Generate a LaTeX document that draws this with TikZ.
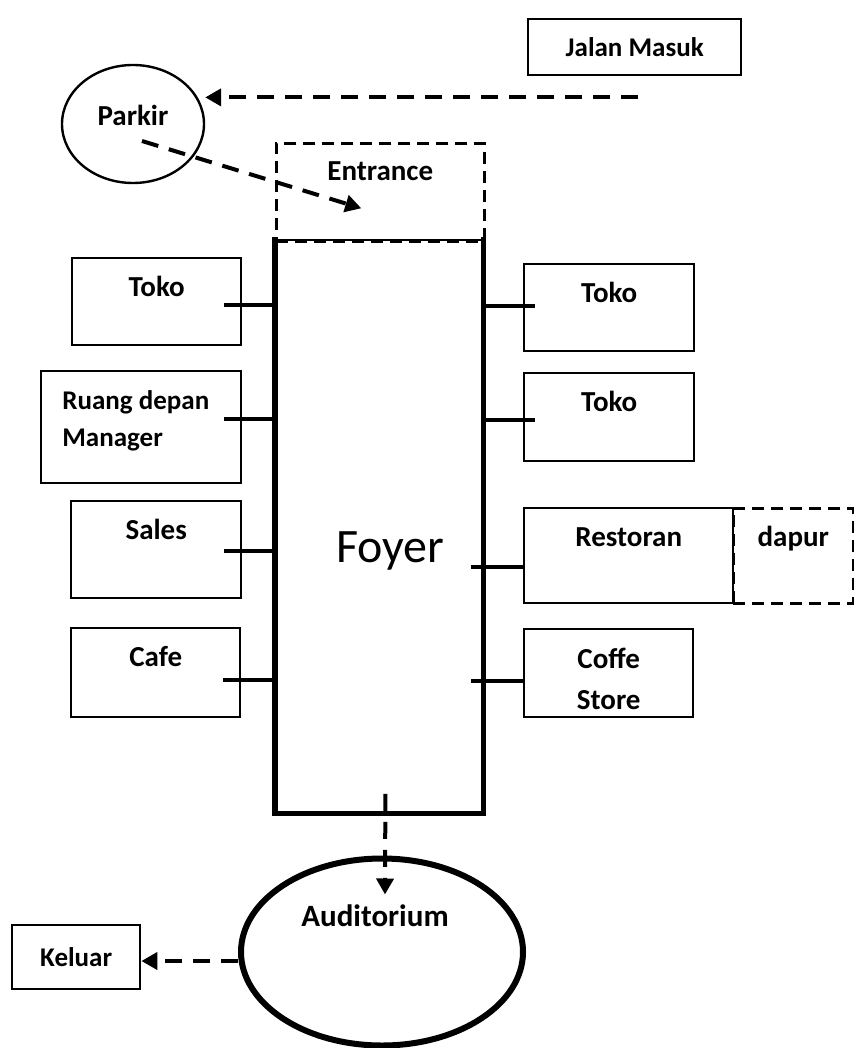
\documentclass[tikz,border=0pt]{standalone}
\usepackage{fontspec}
\setmainfont{Carlito}
\usetikzlibrary{arrows.meta,shapes.geometric,calc}
\tikzset{
  room/.style={draw,line width=1.2pt,anchor=north west,inner sep=0pt},
  open room/.style={room,line width=1.3pt,dash pattern=on 6pt off 3.5pt},
  hall/.style={ellipse,draw,inner sep=0pt},
  tag/.style={anchor=base,yshift=-#1,inner sep=0pt,align=left,
    font=\bfseries\fontsize{14.5}{18.5}\selectfont},
  tag/.default=19.5pt,
  link/.style={line width=2.2pt},
  wall/.style={line width=2.6pt,line cap=rect},
  flow/.style={-{Triangle[length=8pt,width=8.5pt]},line width=2pt,
    dash pattern=on 8.5pt off 5.5pt},
}
\begin{document}
\begin{tikzpicture}[x=0.5pt,y=-0.5pt]
  \useasboundingbox (0,0) rectangle (854,1048);
  % outside
  \node[room,minimum width=106.5pt,minimum height=28pt,
    font=\bfseries\fontsize{13.5}{16}\selectfont] (jalan) at (527,18) {Jalan Masuk};
  \node[hall,line width=1.2pt,minimum width=71pt,minimum height=59pt,
    label={[tag=31pt]north:Parkir}] (parkir) at (133,124) {};
  % entrance and foyer
  \node[open room,minimum width=104pt,minimum height=49pt,
    label={[tag]north:Entrance}] (entrance) at (275,142) {};
  \node[anchor=north west,inner sep=0pt,minimum width=104pt,minimum height=286.5pt,
    label={[anchor=base,inner sep=0pt,xshift=5.5pt,yshift=-161pt,
      font=\fontsize{24}{28}\selectfont]north:Foyer}] (foyer) at (275,240) {};
  \draw[line width=1.2pt] (foyer.north west) -- (foyer.north east);
  \draw[wall] (foyer.north west) -- (foyer.south west) -- (foyer.south east) -- (foyer.north east);
  % rooms on the left
  \node[room,minimum width=84.5pt,minimum height=43.5pt,label={[tag]north:Toko}] (tokoA) at (71,257) {};
  \node[room,minimum width=100pt,minimum height=56pt,
    label={[tag=38pt,anchor=base west,xshift=11pt,
      font=\bfseries\fontsize{13.5}{18.5}\selectfont]north west:Ruang depan\\Manager}] (manager) at (40,370) {};
  \node[room,minimum width=85pt,minimum height=48.5pt,label={[tag]north:Sales}] (sales) at (70,500) {};
  \node[room,minimum width=84.5pt,minimum height=44.5pt,label={[tag]north:Cafe}] (cafe) at (70,627) {};
  % rooms on the right
  \node[room,minimum width=85pt,minimum height=43.5pt,label={[tag]north:Toko}] (tokoB) at (523,263) {};
  \node[room,minimum width=85pt,minimum height=44pt,label={[tag]north:Toko}] (tokoC) at (523,372) {};
  \node[open room,minimum width=60pt,minimum height=47.5pt,label={[tag]north:dapur}] (dapur) at (732,507) {};
  \node[room,minimum width=104.5pt,minimum height=47.5pt,label={[tag]north:Restoran}] (resto) at (523,507) {};
  \node[room,minimum width=84.5pt,minimum height=44pt,
    label={[tag=40.5pt,align=center]north:Coffe\\[2pt]Store}] (coffee) at (523,628) {};
  % auditorium and exit
  \node[hall,line width=3pt,minimum width=141pt,minimum height=93.5pt,
    label={[tag=35.5pt,xshift=-3.5pt,font=\bfseries\fontsize{15.5}{18}\selectfont]north:Auditorium}] (aud) at (382,952) {};
  \node[room,minimum width=64pt,minimum height=32pt,
    font=\bfseries\fontsize{13.5}{16}\selectfont] (keluar) at (11,924) {Keluar};

  \foreach \r/\dy in {tokoA/3.5,manager/-8,sales/1.5,cafe/7.5}
    \draw[link] ($(\r.east)+(-18,\dy)$) -- ($(\r.east -| foyer.west)+(0,\dy)$);
  \foreach \r/\a/\b/\dy in {tokoB/0/12/-1.5,tokoC/0/12/3,resto/-13/0/11.5,coffee/-13/0/8}
    \draw[link] ($(\r.west -| foyer.east)+(\a,\dy)$) -- ($(\r.west)+(\b,\dy)$);

  \coordinate (jm) at ($(jalan.south)+(3,21)$);
  \draw[flow] (jm) -- (jm -| parkir.east);
  \draw[flow] ($(parkir.center)+(9,17)$) -- ($(entrance.center)+(-19,16)$);
  \draw[flow] ($(foyer.south)+(6,-20)$) -- ($(aud.north)+(3,39)$);
  \draw[flow] ($(aud.west)+(0,9)$) -- ($(aud.west -| keluar.east)+(0,9)$);
\end{tikzpicture}
\end{document}
